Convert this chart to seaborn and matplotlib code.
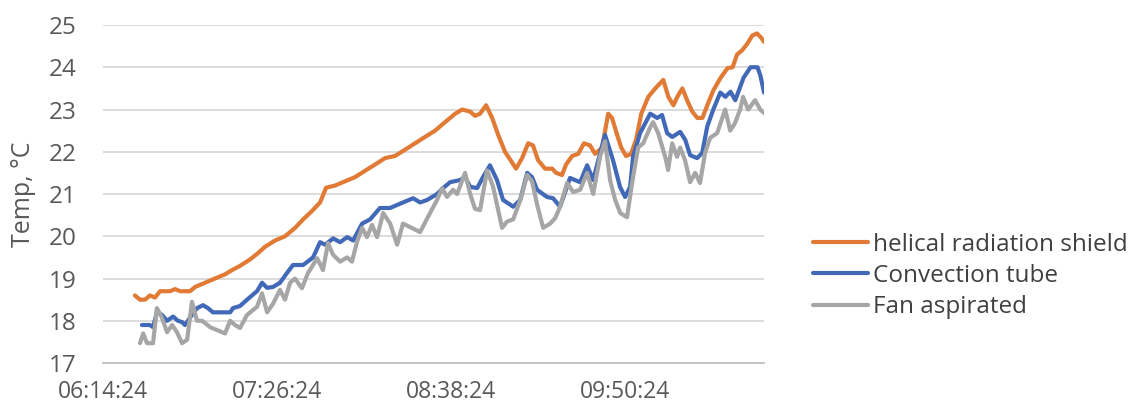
import numpy as np
import pandas as pd
import matplotlib
matplotlib.use("Agg")
import matplotlib.pyplot as plt
import seaborn as sns

# (elapsed minutes after 06:14:24, temperature °C)
helical_points = [
    (13.2, 18.6), (15.3, 18.5), (17.4, 18.5), (19.4, 18.6), (21.5, 18.55), (23.6, 18.7),
    (27.7, 18.7), (29.8, 18.75), (31.9, 18.7), (36.0, 18.7), (38.1, 18.8), (42.2, 18.9),
    (46.3, 19.0), (50.5, 19.1), (53.4, 19.2), (56.7, 19.3), (60.8, 19.45), (64.1, 19.6),
    (67.0, 19.75), (71.2, 19.9), (75.3, 20.0), (79.5, 20.2), (82.8, 20.4), (86.5, 20.6),
    (89.8, 20.8), (92.3, 21.15), (96.0, 21.2), (100.1, 21.3), (104.3, 21.4), (108.4, 21.55),
    (112.6, 21.7), (116.7, 21.85), (120.8, 21.9), (125.0, 22.05), (129.1, 22.2), (133.2, 22.35),
    (137.4, 22.5), (141.5, 22.7), (145.7, 22.9), (148.6, 23.0), (151.9, 22.95), (153.9, 22.85),
    (156.0, 22.9), (158.5, 23.1), (161.0, 22.8), (163.5, 22.4), (166.3, 22.0), (169.2, 21.75),
    (170.9, 21.6), (173.4, 21.85), (175.9, 22.2), (177.9, 22.15), (180.0, 21.8), (182.9, 21.6),
    (185.8, 21.6), (187.5, 21.5), (189.9, 21.45), (191.6, 21.7), (194.1, 21.9), (196.6, 21.95),
    (199.0, 22.2), (201.5, 22.15), (203.6, 21.95), (206.5, 22.1), (209.0, 22.9), (210.6, 22.8),
    (212.7, 22.4), (214.4, 22.1), (216.4, 21.9), (218.5, 21.95), (220.6, 22.3), (222.7, 22.9),
    (225.6, 23.3), (228.5, 23.5), (231.8, 23.7), (233.9, 23.3), (236.0, 23.1), (237.6, 23.3),
    (239.7, 23.5), (241.8, 23.2), (243.8, 22.95), (245.9, 22.8), (248.0, 22.8), (250.0, 23.1),
    (252.5, 23.45), (255.5, 23.75), (258.4, 23.98), (260.5, 24.0), (262.3, 24.3), (264.4, 24.4),
    (266.5, 24.55), (268.6, 24.75), (270.6, 24.8), (272.3, 24.7), (273.5, 24.6),
]

convection_points = [
    (16.1, 17.9), (19.4, 17.9), (20.7, 17.85), (22.3, 18.2), (24.4, 18.14), (26.5, 18.0),
    (29.0, 18.1), (31.0, 18.0), (32.7, 17.97), (33.9, 17.9), (36.8, 18.14), (38.9, 18.3),
    (41.4, 18.37), (43.4, 18.3), (45.5, 18.2), (52.6, 18.2), (53.8, 18.3), (56.7, 18.35),
    (59.6, 18.5), (63.7, 18.7), (65.8, 18.9), (67.9, 18.78), (70.3, 18.8), (73.2, 18.9),
    (76.1, 19.13), (78.6, 19.32), (82.8, 19.32), (86.9, 19.5), (89.8, 19.86), (91.9, 19.8),
    (95.2, 19.95), (98.1, 19.86), (101.0, 19.98), (103.5, 19.9), (107.2, 20.3), (110.5, 20.4),
    (114.6, 20.67), (118.8, 20.67), (124.1, 20.8), (128.3, 20.9), (131.2, 20.8), (134.1, 20.86),
    (138.2, 21.0), (140.7, 21.14), (143.6, 21.28), (147.7, 21.33), (149.8, 21.4), (151.9, 21.17),
    (154.8, 21.14), (157.2, 21.4), (160.1, 21.68), (163.0, 21.33), (165.5, 20.86), (169.7, 20.7),
    (172.6, 20.86), (175.5, 21.5), (177.5, 21.4), (179.6, 21.1), (183.7, 20.93), (186.2, 20.9),
    (189.1, 20.7), (193.2, 21.38), (197.4, 21.28), (200.3, 21.68), (202.8, 21.33), (205.7, 21.97),
    (207.7, 22.4), (211.0, 21.8), (213.9, 21.17), (216.0, 20.93), (218.1, 21.17), (219.3, 21.88),
    (222.2, 22.44), (226.4, 22.9), (229.3, 22.8), (231.3, 22.87), (233.4, 22.44), (235.5, 22.35),
    (238.8, 22.47), (240.9, 22.28), (242.9, 21.92), (245.8, 21.85), (247.9, 21.97), (250.0, 22.6),
    (252.5, 23.0), (255.4, 23.4), (257.5, 23.3), (259.6, 23.42), (261.6, 23.22), (265.0, 23.75),
    (267.9, 24.0), (270.8, 24.0), (272.0, 23.8), (273.5, 23.4),
]

fan_points = [
    (15.3, 17.47), (16.6, 17.7), (18.2, 17.47), (20.7, 17.47), (22.3, 18.3), (24.4, 18.07),
    (26.5, 17.73), (28.6, 17.9), (30.6, 17.73), (32.7, 17.47), (34.8, 17.55), (36.8, 18.45),
    (38.9, 18.0), (41.0, 18.0), (44.3, 17.85), (47.2, 17.78), (50.5, 17.7), (52.6, 18.0),
    (54.6, 17.9), (56.7, 17.83), (59.6, 18.14), (63.7, 18.33), (65.8, 18.65), (67.9, 18.2),
    (70.3, 18.4), (73.2, 18.73), (75.3, 18.5), (77.4, 18.9), (79.4, 19.0), (82.3, 18.77),
    (84.8, 19.13), (88.6, 19.48), (91.0, 19.2), (93.1, 19.84), (95.2, 19.56), (98.1, 19.4),
    (101.0, 19.5), (103.0, 19.4), (105.1, 19.87), (107.2, 20.2), (109.2, 19.98), (111.3, 20.27),
    (113.4, 19.98), (115.9, 20.55), (118.8, 20.3), (121.7, 19.8), (124.1, 20.3), (131.2, 20.1),
    (135.3, 20.55), (138.2, 20.86), (140.3, 21.14), (142.3, 20.93), (144.8, 21.1), (146.5, 21.0),
    (149.8, 21.5), (151.9, 21.0), (153.9, 20.65), (156.0, 20.62), (158.9, 21.56), (161.4, 21.17),
    (165.1, 20.2), (167.2, 20.35), (169.7, 20.4), (172.6, 20.85), (175.5, 21.45), (177.5, 21.3),
    (179.6, 20.75), (182.1, 20.2), (185.0, 20.3), (187.1, 20.43), (189.1, 20.7), (192.0, 21.26),
    (194.5, 21.05), (197.4, 21.1), (200.3, 21.5), (202.8, 21.0), (205.7, 21.9), (207.7, 22.25),
    (209.8, 21.33), (211.9, 20.86), (214.0, 20.55), (216.8, 20.45), (218.9, 21.26), (221.4, 22.1),
    (223.5, 22.2), (226.4, 22.58), (227.6, 22.7), (229.7, 22.44), (232.6, 21.88), (233.8, 21.57),
    (235.5, 22.2), (237.5, 21.88), (238.8, 22.1), (240.8, 21.8), (242.9, 21.28), (245.0, 21.5),
    (247.0, 21.26), (249.1, 21.97), (251.2, 22.33), (254.1, 22.44), (257.4, 23.0), (259.5, 22.5),
    (261.5, 22.68), (263.6, 23.0), (264.8, 23.3), (266.9, 23.0), (269.8, 23.22), (271.9, 23.0),
    (273.5, 22.92),
]

series_names = ["helical radiation shield", "Convection tube", "Fan aspirated"]
series_colors = ["#E07A35", "#4169B8", "#A6A6A6"]
x_tick_minutes = [0, 72, 144, 216]
x_tick_labels = ["06:14:24", "07:26:24", "08:38:24", "09:50:24"]
y_ticks = [17, 18, 19, 20, 21, 22, 23, 24, 25]

frames = []
for name, pts in zip(series_names, [helical_points, convection_points, fan_points]):
    m, t = zip(*pts)
    frames.append(pd.DataFrame({"minutes": m, "temp": t, "sensor": name}))
df = pd.concat(frames, ignore_index=True)

sns.set_theme(style="white")
plt.rcParams["font.family"] = ["Open Sans", "DejaVu Sans"]

fig = plt.figure(figsize=(11.37, 4.07), dpi=100)
ax = fig.add_axes([0.0906, 0.108, 0.5814, 0.8306])

sns.lineplot(data=df, x="minutes", y="temp", hue="sensor", hue_order=series_names,
             palette=dict(zip(series_names, series_colors)), linewidth=3.0,
             estimator=None, sort=False, ax=ax, legend=False,
             solid_joinstyle="round", solid_capstyle="round")

ax.set_xlim(0, 273.5)
ax.set_ylim(17, 25)
ax.set_yticks(y_ticks)
ax.set_xticks(x_tick_minutes)
ax.set_xticklabels(x_tick_labels)
ax.yaxis.grid(True, color="#D9D9D9", linewidth=1.3)
ax.xaxis.grid(False)
for s in ["left", "right", "top"]:
    ax.spines[s].set_visible(False)
ax.spines["bottom"].set_color("#BFBFBF")
ax.spines["bottom"].set_linewidth(1.3)
ax.set_axisbelow(True)
ax.tick_params(axis="both", length=0, labelcolor="#595959")
ax.tick_params(axis="y", pad=19, labelsize=17.5)
ax.tick_params(axis="x", pad=12.5, labelsize=16.5)
ax.set_xlabel("")
ax.set_ylabel("Temp, °C", fontsize=18, color="#595959")
ax.yaxis.set_label_coords(-0.102, 0.5)

handles = [plt.Line2D([], [], color=c, linewidth=3.0) for c in series_colors]
fig.legend(handles, series_names, loc="center left", bbox_to_anchor=(0.715, 0.322),
           frameon=False, fontsize=17.5, handlelength=2.26, handletextpad=0.2,
           labelspacing=0.3, labelcolor="#404040", borderaxespad=0, borderpad=0)

fig.savefig("out.png", dpi=100)
